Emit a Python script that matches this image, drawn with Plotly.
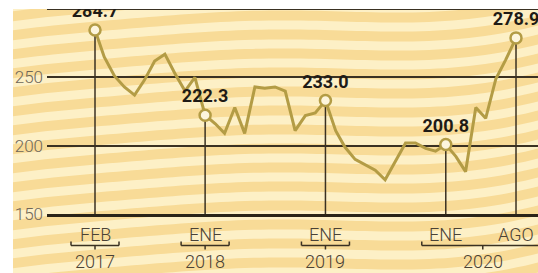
import numpy as np
import pandas as pd
import plotly.graph_objects as go

# ---------------- data ----------------
months = pd.date_range("2017-02-01", "2020-08-01", freq="MS")
values = [
    284.7, 265, 251, 243, 237, 248, 262, 267, 253, 240, 250,          # 2017 Feb-Dec
    222.3, 216, 209, 228, 209, 243, 242, 243, 240, 211, 222, 224,    # 2018
    233.0, 211, 199, 190, 186, 182, 175, 189, 202, 202, 198, 196,    # 2019
    200.8, 192, 181, 228, 220, 249, 263, 278.9,                      # 2020 Jan-Aug
]
hl_dates = ["2017-02-01", "2018-01-01", "2019-01-01", "2020-01-01", "2020-08-01"]
hl_values = [284.7, 222.3, 233.0, 200.8, 278.9]
hl_labels = ["284.7", "222.3", "233.0", "200.8", "278.9"]
month_text = ["FEB", "ENE", "ENE", "ENE", "AGO"]
year_anchor = ["2017-02-01", "2018-01-01", "2019-01-01", "2020-01-01"]
year_text = ["2017", "2018", "2019", "2020"]
y_ticks = [150, 200, 250, 300]

# ---------------- style ----------------
W, H = 538, 273
L, T, B = 47, 7, 59
PW, PH = W - L, H - T - B
LINE_C = "#b39c45"
DARK = "#3a3122"
BG_DARK = "#f8db97"
BG_LIGHT = "#fdf0c6"
FONT = "Roboto"

def px2paper_x(px):
    return (px - L) / PW

def py2paper_y(py):
    return (T + PH - py) / PH

fig = go.Figure()

# vertical lines from highlighted points down to the baseline
vx, vy = [], []
for d, v in zip(hl_dates, hl_values):
    vx += [d, d, None]
    vy += [y_ticks[0], v, None]
fig.add_trace(go.Scatter(x=vx, y=vy, mode="lines",
                         line=dict(color=DARK, width=1.5), hoverinfo="skip"))

# main line
fig.add_trace(go.Scatter(x=months, y=values, mode="lines",
                         line=dict(color=LINE_C, width=3)))

# highlight markers
fig.add_trace(go.Scatter(x=hl_dates, y=hl_values, mode="markers",
                         marker=dict(size=11, color="#fdf5dc",
                                     line=dict(color=LINE_C, width=2.5))))

# value labels (invisible markers set the text offset)
fig.add_trace(go.Scatter(x=hl_dates, y=hl_values, mode="markers+text",
                         text=hl_labels, textposition="top center",
                         cliponaxis=False, hoverinfo="skip",
                         marker=dict(size=12, color="rgba(0,0,0,0)"),
                         textfont=dict(family=FONT, size=18, color="#1f1b16",
                                       weight="bold")))

shapes = []
# background
shapes.append(dict(type="rect", xref="paper", yref="paper",
                   x0=px2paper_x(13), x1=px2paper_x(W + 2),
                   y0=py2paper_y(H + 2), y1=py2paper_y(9),
                   fillcolor=BG_DARK, line=dict(width=0), layer="below"))
# wavy light stripes (decorative texture)
xs = np.arange(13, W + 11, 8)
off = -9.5e-7 * (xs - 270) ** 3 + 3.0 * np.sin(xs / 60.0)
for k in range(-3, 17):
    c = 9 + k * 19
    top = c + off - 4.5
    bot = c + off + 4.5
    pts = [(px2paper_x(x), py2paper_y(y)) for x, y in zip(xs, top)]
    pts += [(px2paper_x(x), py2paper_y(y)) for x, y in zip(xs[::-1], bot[::-1])]
    path = "M " + " L ".join(f"{a:.4f},{b:.4f}" for a, b in pts) + " Z"
    shapes.append(dict(type="path", xref="paper", yref="paper", path=path,
                       fillcolor=BG_LIGHT, line=dict(width=0), layer="below"))
# white top margin (cropped look)
shapes.append(dict(type="rect", xref="paper", yref="paper",
                   x0=px2paper_x(-5), x1=px2paper_x(W + 5),
                   y0=py2paper_y(9), y1=py2paper_y(-5),
                   fillcolor="white", line=dict(width=0), layer="above"))
# year brackets
yb = py2paper_y(245.5)
yu = py2paper_y(241.5)
yd = py2paper_y(249.5)
annotations = []
for i, (a, t) in enumerate(zip(year_anchor, year_text)):
    if i == len(year_anchor) - 1:
        lft, rgt, ctr = -24, 98, 37
    else:
        lft, rgt, ctr = -24, 24, 0
    common = dict(type="line", xref="x", yref="paper", xsizemode="pixel",
                  xanchor=a, line=dict(color=DARK, width=1.5), layer="above")
    shapes.append(dict(common, x0=lft, x1=rgt, y0=yb, y1=yb))
    shapes.append(dict(common, x0=lft, x1=lft, y0=yb, y1=yu))
    shapes.append(dict(common, x0=rgt, x1=rgt, y0=yb, y1=yu))
    shapes.append(dict(common, x0=ctr, x1=ctr, y0=yb, y1=yd))
    annotations.append(dict(x=a, y=py2paper_y(261.5), xref="x", yref="paper",
                            text=t, showarrow=False, xshift=ctr,
                            font=dict(family=FONT, size=18, color="#4a4236",
                                      weight=300),
                            xanchor="center", yanchor="middle"))
for d, t in zip(hl_dates, month_text):
    annotations.append(dict(x=d, y=py2paper_y(234), xref="x", yref="paper",
                            text=t, showarrow=False,
                            font=dict(family=FONT, size=18, color="#4a4236",
                                      weight=300),
                            xanchor="center", yanchor="middle"))

fig.update_layout(
    width=W, height=H,
    margin=dict(l=L, r=0, t=T, b=B, pad=0),
    paper_bgcolor="white", plot_bgcolor="rgba(0,0,0,0)",
    showlegend=False, hovermode=False,
    shapes=shapes, annotations=annotations,
    xaxis=dict(type="date", range=["2016-09-08 10:00", "2020-10-06 17:00"],
               showgrid=False, showticklabels=False, zeroline=False,
               showline=True, linecolor="#2a2418", linewidth=3, ticks=""),
    yaxis=dict(range=[150, 301.5], tickvals=y_ticks, showgrid=True,
               gridcolor=DARK, gridwidth=1.5, zeroline=False, showline=False,
               ticks="", ticklabelstandoff=3,
               tickfont=dict(family=FONT, size=17, color="#6e6658", weight=300)),
)

fig.write_html("out.html", config={"displayModeBar": False},
               post_script="document.body.style.margin='0';"
                           "document.body.style.overflow='hidden';")
